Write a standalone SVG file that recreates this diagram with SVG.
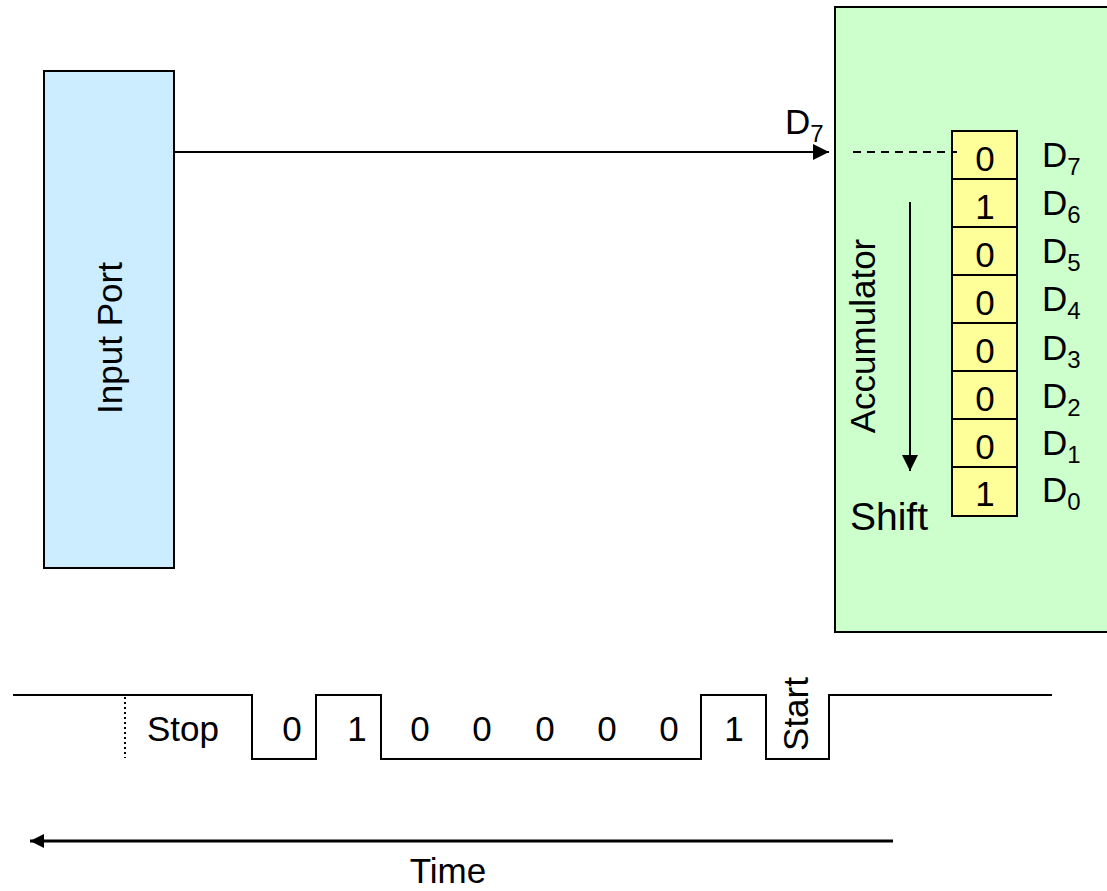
<svg xmlns="http://www.w3.org/2000/svg" width="1107" height="891" viewBox="0 0 1107 891">
<defs>
<marker id="ah" viewBox="0 0 10 10" refX="10" refY="5" markerWidth="16" markerHeight="16" markerUnits="userSpaceOnUse" orient="auto">
<path d="M0,0 L10,5 L0,10 z" fill="#000"/>
</marker>
<marker id="ah2" viewBox="0 0 10 10" refX="10" refY="5" markerWidth="14" markerHeight="14" markerUnits="userSpaceOnUse" orient="auto">
<path d="M0,0 L10,5 L0,10 z" fill="#000"/>
</marker>
</defs>
<style>
text{font-family:"Liberation Sans",Arial,sans-serif;fill:#000}
.t{font-size:35px}
.c{font-size:35px;text-anchor:middle}
.sub{font-size:24px}
.cell{fill:#FFFF99;stroke:#000;stroke-width:2}
.ln{stroke:#000;stroke-width:2;fill:none}
</style>
<rect width="1107" height="891" fill="#fff"/>
<g id="input-port">
<rect x="44" y="71" width="130" height="497" fill="#CCECFF" stroke="#000" stroke-width="2"/>
<text class="c" transform="translate(122,338) rotate(-90)">Input Port</text>
</g>
<g id="accumulator">
<rect x="835" y="7" width="280" height="625" fill="#CCFFCC" stroke="#000" stroke-width="2"/>
<text class="c" transform="translate(875,336) rotate(-90)">Accumulator</text>
<text x="850" y="530" style="font-size:39px">Shift</text>
</g>
<g id="register">
<rect class="cell" x="952" y="131" width="65" height="48"/>
<rect class="cell" x="952" y="179" width="65" height="48"/>
<rect class="cell" x="952" y="227" width="65" height="48"/>
<rect class="cell" x="952" y="275" width="65" height="48"/>
<rect class="cell" x="952" y="323" width="65" height="48"/>
<rect class="cell" x="952" y="371" width="65" height="48"/>
<rect class="cell" x="952" y="419" width="65" height="48"/>
<rect class="cell" x="952" y="467" width="65" height="49"/>
<text class="c" x="985" y="171">0</text>
<text class="c" x="985" y="219">1</text>
<text class="c" x="985" y="267">0</text>
<text class="c" x="985" y="315">0</text>
<text class="c" x="985" y="363">0</text>
<text class="c" x="985" y="411">0</text>
<text class="c" x="985" y="459">0</text>
<text class="c" x="985" y="506">1</text>
<text class="t" x="1042" y="167">D<tspan class="sub" dy="8">7</tspan></text>
<text class="t" x="1042" y="215">D<tspan class="sub" dy="8">6</tspan></text>
<text class="t" x="1042" y="263">D<tspan class="sub" dy="8">5</tspan></text>
<text class="t" x="1042" y="311">D<tspan class="sub" dy="8">4</tspan></text>
<text class="t" x="1042" y="360">D<tspan class="sub" dy="8">3</tspan></text>
<text class="t" x="1042" y="408">D<tspan class="sub" dy="8">2</tspan></text>
<text class="t" x="1042" y="455">D<tspan class="sub" dy="8">1</tspan></text>
<text class="t" x="1042" y="502">D<tspan class="sub" dy="8">0</tspan></text>
</g>
<g id="connectors">
<line class="ln" x1="174" y1="152" x2="829" y2="152" marker-end="url(#ah)"/>
<text class="t" x="785" y="134">D<tspan class="sub" dy="8">7</tspan></text>
<line class="ln" x1="853" y1="152" x2="957" y2="152" stroke-dasharray="8,6"/>
<line class="ln" x1="910" y1="202" x2="910" y2="471" marker-end="url(#ah)"/>
<line x1="893" y1="841" x2="30" y2="841" stroke="#000" stroke-width="3" marker-end="url(#ah2)"/>
</g>
<g id="waveform">
<polyline class="ln" points="13,695 252,695 252,759 316,759 316,695 381,695 381,759 701,759 701,695 766,695 766,759 829,759 829,695 1052,695"/>
<line x1="125" y1="697" x2="125" y2="758" stroke="#000" stroke-width="2" stroke-dasharray="2,3"/>
<text class="t" x="147" y="741">Stop</text>
<text class="c" x="292" y="741">0</text>
<text class="c" x="357" y="741">1</text>
<text class="c" x="420" y="741">0</text>
<text class="c" x="482" y="741">0</text>
<text class="c" x="545" y="741">0</text>
<text class="c" x="607" y="741">0</text>
<text class="c" x="669" y="741">0</text>
<text class="c" x="734" y="741">1</text>
<text class="c" transform="translate(808,714) rotate(-90)">Start</text>
</g>
<text class="c" x="448" y="883">Time</text>
</svg>
